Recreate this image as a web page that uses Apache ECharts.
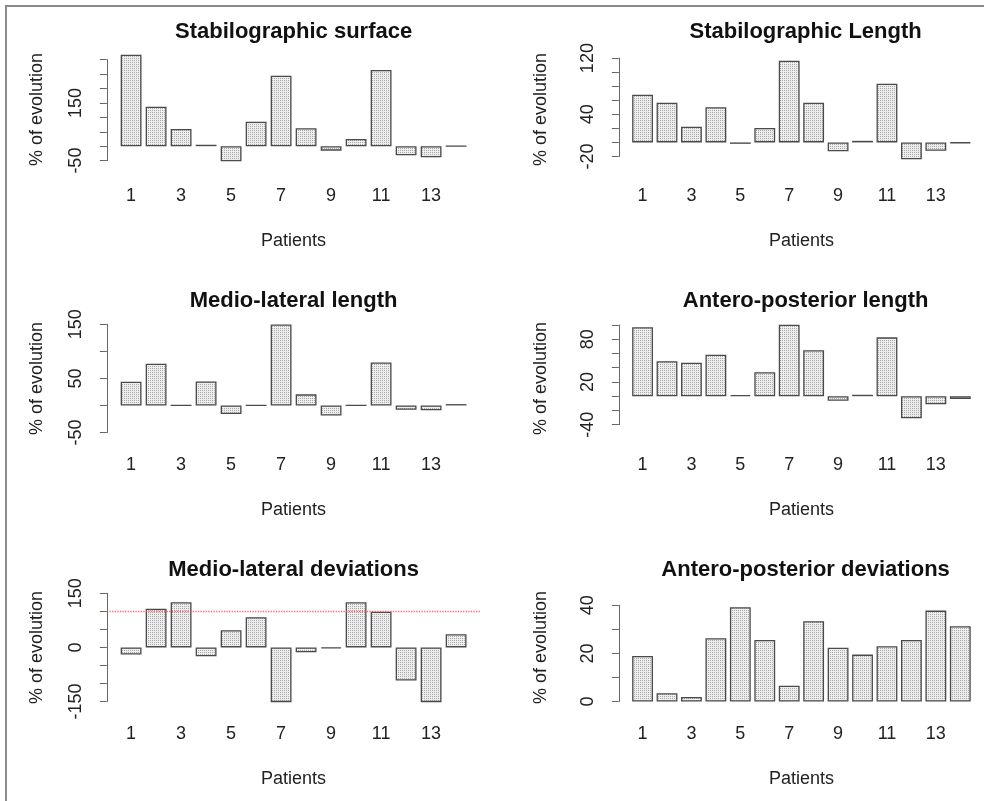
<!DOCTYPE html>
<html><head><meta charset="utf-8">
<script src="https://cdn.jsdelivr.net/npm/echarts@6/dist/echarts.min.js"></script>
<style>
html,body{margin:0;padding:0;background:#fff;overflow:hidden}
#c{width:984px;height:801px;position:absolute;left:0;top:0}
#frame{position:absolute;left:5px;top:5px;width:2000px;height:2000px;border-left:2px solid #8a8a8a;border-top:2px solid #8a8a8a;pointer-events:none}
</style></head><body>
<div id="c"></div><div id="frame"></div>
<script>
// ---------------- data ----------------
const patients = [1,2,3,4,5,6,7,8,9,10,11,12,13,14];
const xTickLabels = [1,3,5,7,9,11,13];

const titles = ['Stabilographic surface','Stabilographic Length','Medio-lateral length',
                'Antero-posterior length','Medio-lateral deviations','Antero-posterior deviations'];
const xTitle = 'Patients';
const yTitle = '% of evolution';

const stabSurface = [330, 137, 59.5, 5, -52, 85, 244, 62, -15.5, 25, 264, -31.5, -38.5, 0];
const stabLength  = [67.9, 56.5, 22.3, 50, -2, 20.5, 116.3, 56.5, -12.7, 2.3, 83.5, -24, -11.8, -1];
const mlLength    = [44, 77, 0, 44.5, -16, 0, 149.5, 20.5, -18.5, 0, 79.5, -8, -9, 2.5];
const apLength    = [96.8, 49, 47, 58.3, 1.5, 33.6, 100.5, 64.5, -6.3, 2, 82.7, -31, -11.4, -4];
const mlDev       = [-20, 107, 125, -24.5, 47.5, 83.5, -175, -13.5, -3, 125, 99, -92, -175, 36.5];
const apDev       = [18.9, 3.4, 1.9, 26.3, 39.2, 25.6, 6.6, 33.4, 22.4, 19.5, 23, 25.6, 37.8, 31.3];
const seriesValues = [stabSurface, stabLength, mlLength, apLength, mlDev, apDev];

// plot y limits (ylim) and axis ticks [min, max, step]
const yLimits = [[-60,315],[-30,124],[-50,150],[-51,101],[-150,150],[0,45]];
const yTicks  = [[-50,300,50],[-20,120,20],[-50,150,50],[-40,100,20],[-150,150,50],[0,40,10]];
const yTickLabels = [[-50,150],[-20,40,120],[-50,50,150],[-40,20,80],[-150,0,150],[0,20,40]];
const refLineValue = [null,null,null,null,100,null];

// ---------------- layout ----------------
const FONT = '"Liberation Sans", Arial, Helvetica, sans-serif';
const regionW = 373.5, regionH = 108.2;
const colX = [106.85, 618.85];
const rowY = [55.3, 324.3, 593.3];

// barplot geometry (width 1, space 0.2)
const space = 0.2, bw = 1;
const centers = patients.map((p,k) => space + k*(bw+space) + bw/2);
const xl = space, xr = space + patients.length*(bw+space) - space;
const xpad = 0.04*(xr-xl);
const xMin = xl - xpad, xMax = xr + xpad;
const barPx = regionW/(xMax-xMin)*bw;

const pc = document.createElement('canvas'); pc.width = 2; pc.height = 2;
const g = pc.getContext('2d');
g.fillStyle = '#eeeeee'; g.fillRect(0,0,2,2);
g.fillStyle = '#a8a8a8'; g.fillRect(0,0,1,1);
const fillPattern = {image: pc, repeat: 'repeat'};

const grid = [], xAxis = [], yAxis = [], series = [], title = [];
seriesValues.forEach((vals, i) => {
  const r = Math.floor(i/2), c = i%2;
  const L = colX[c], T = rowY[r];
  const [y0, y1] = yLimits[i];
  const [t0, t1, ts] = yTicks[i];
  const sc = regionH/(y1-y0);
  grid.push({left: L, top: T, width: regionW, height: regionH, containLabel: false});
  grid.push({left: L, top: T + (y1-t1)*sc, width: regionW, height: (t1-t0)*sc, containLabel: false});
  const ga = 2*i, gb = 2*i+1;
  xAxis.push({
    type: 'value', gridIndex: ga, min: xMin, max: xMax,
    axisLine: {show: false}, axisTick: {show: false}, splitLine: {show: false},
    axisLabel: {
      customValues: xTickLabels.map(p => centers[patients.indexOf(p)]),
      formatter: v => String(patients[Math.round((v - centers[0])/(bw+space))]),
      fontFamily: FONT, fontSize: 18, color: '#222', margin: 24
    },
    name: xTitle, nameLocation: 'middle', nameGap: 69,
    nameTextStyle: {fontFamily: FONT, fontSize: 18, color: '#222'}
  });
  xAxis.push({type: 'value', gridIndex: gb, min: 0, max: 1, show: false});
  yAxis.push({
    type: 'value', gridIndex: ga, min: y0, max: y1,
    axisLine: {show: false}, axisTick: {show: false}, axisLabel: {show: false}, splitLine: {show: false},
    name: yTitle, nameLocation: 'middle', nameGap: c === 0 ? 61 : 69,
    nameTextStyle: {fontFamily: FONT, fontSize: 18, color: '#222'}
  });
  yAxis.push({
    type: 'value', gridIndex: gb, min: t0, max: t1, interval: ts,
    axisLine: {show: true, lineStyle: {color: '#666', width: 1}},
    axisTick: {show: true, length: 7, lineStyle: {color: '#666', width: 1}},
    splitLine: {show: false},
    axisLabel: {
      rotate: 90, margin: 22, fontFamily: FONT, fontSize: 18, color: '#222',
      formatter: v => yTickLabels[i].indexOf(v) >= 0 ? String(v) : ''
    }
  });
  series.push({
    type: 'bar', xAxisIndex: ga, yAxisIndex: ga, barWidth: barPx, clip: true,
    silent: true, animation: false,
    data: vals.map((v,k) => [centers[k], v]),
    itemStyle: {color: fillPattern, borderColor: '#4a4a4a', borderWidth: 1.3}
  });
  if (refLineValue[i] !== null) {
    // reference line drawn on its own (empty) series so its colour is not inherited from the bars
    series.push({
      type: 'line', xAxisIndex: ga, yAxisIndex: ga, data: [], color: '#ff4444',
      silent: true, animation: false,
      markLine: {
        silent: true, symbol: ['none','none'], label: {show: false}, animation: false,
        itemStyle: {color: '#ff4444'},
        lineStyle: {color: '#ff4444', type: 'dotted', width: 1.3, opacity: 0.8},
        data: [{yAxis: refLineValue[i]}]
      }
    });
  }
  title.push({
    text: titles[i], left: L + regionW/2, top: 21 + 269*r, textAlign: 'center', padding: 0,
    textStyle: {fontFamily: FONT, fontSize: 22, fontWeight: 'bold', color: '#111'}
  });
});

const chart = echarts.init(document.getElementById('c'), null, {renderer: 'canvas'});
chart.setOption({animation: false, backgroundColor: '#fff', title, grid, xAxis, yAxis, series});
</script>
</body></html>
